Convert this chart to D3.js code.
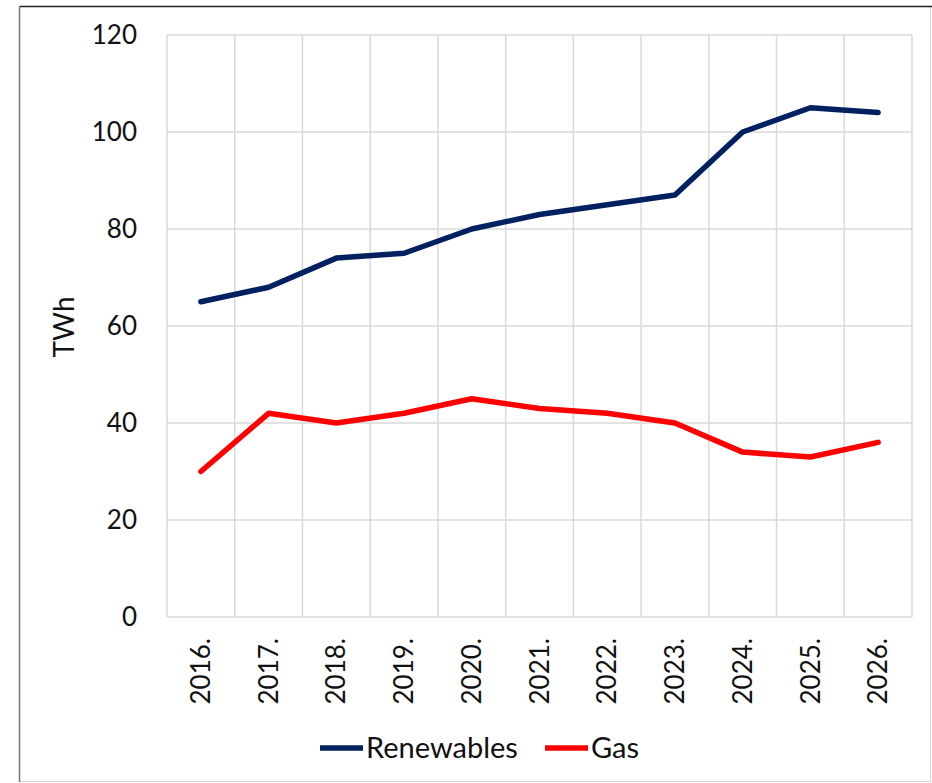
<!DOCTYPE html>
<html><head><meta charset="utf-8">
<script src="https://cdn.jsdelivr.net/npm/d3@7"></script>
<style>
html,body{margin:0;padding:0;background:#fff;}
svg{display:block;font-family:Lato,"Open Sans",sans-serif;}
</style></head>
<body><svg id="c" width="932" height="783"></svg>
<script>
const years = ["2016.","2017.","2018.","2019.","2020.","2021.","2022.","2023.","2024.","2025.","2026."];
const renewables = [65, 68, 74, 75, 80, 83, 85, 87, 100, 105, 104];
const gas = [30, 42, 40, 42, 45, 43, 42, 40, 34, 33, 36];
const yTicks = [0, 20, 40, 60, 80, 100, 120];
const seriesNames = ["Renewables", "Gas"];
const seriesColors = ["#002060", "#ff0000"];

const svg = d3.select("#c");
// frame
svg.append("rect").attr("x",19.5).attr("y",6.5).attr("width",911).attr("height",775)
  .attr("fill","none").attr("stroke","#d8d8d8").attr("stroke-width",1);
svg.append("line").attr("x1",19.5).attr("x2",932).attr("y1",6.5).attr("y2",6.5).attr("stroke","#222").attr("stroke-width",1.5);
svg.append("line").attr("x1",19.5).attr("x2",19.5).attr("y1",6.5).attr("y2",782).attr("stroke","#777").attr("stroke-width",1.5);

const L = 167, R = 912, T = 35, B = 617;
const x = d3.scaleBand().domain(years).range([L, R]);
const y = d3.scaleLinear().domain([0, 120]).range([B, T]);

const grid = svg.append("g");
grid.selectAll("line.h").data(yTicks).enter().append("line")
  .attr("x1", L).attr("x2", R).attr("y1", d => y(d)).attr("y2", d => y(d))
  .attr("stroke", "#d9d9d9").attr("stroke-width", 1.5);
const bounds = years.map(d => x(d)).concat([x(years[years.length-1]) + x.bandwidth()]);
grid.selectAll("line.v").data(bounds).enter().append("line")
  .attr("x1", d => d).attr("x2", d => d).attr("y1", T).attr("y2", B)
  .attr("stroke", "#d9d9d9").attr("stroke-width", 1.5);

// y axis
const yAxis = svg.append("g").attr("transform", `translate(${L},0)`)
  .call(d3.axisLeft(y).tickValues(yTicks).tickSize(0).tickPadding(30));
yAxis.select(".domain").remove();
yAxis.selectAll("text").attr("font-size", 26).attr("fill", "#111").attr("font-family","Lato,'Open Sans',sans-serif");

// x axis
const xAxis = svg.append("g").attr("transform", `translate(0,${B})`)
  .call(d3.axisBottom(x).tickSize(0));
xAxis.select(".domain").remove();
xAxis.selectAll("text")
  .attr("font-size", 26).attr("fill", "#111").attr("font-family","Lato,'Open Sans',sans-serif")
  .attr("transform", "rotate(-90)")
  .attr("text-anchor", "end").attr("dy", "0.35em")
  .attr("x", -21).attr("y", 0);

// y label
svg.append("text").attr("transform", "translate(64,327) rotate(-90)")
  .attr("text-anchor", "middle").attr("dy","0.35em").attr("font-size", 28).attr("fill", "#111").text("TWh");

// lines
const line = d3.line().x((d, i) => x(years[i]) + x.bandwidth()/2).y(d => y(d));
[renewables, gas].forEach((s, k) => {
  svg.append("path").datum(s).attr("d", line)
    .attr("fill", "none").attr("stroke", seriesColors[k]).attr("stroke-width", 5.5)
    .attr("stroke-linejoin", "round").attr("stroke-linecap", "round");
});

// legend
const legX = [320, 545];
seriesNames.forEach((n, k) => {
  const g = svg.append("g").attr("transform", `translate(${legX[k]},748)`);
  g.append("line").attr("x1", 0).attr("x2", 43).attr("y1", 0).attr("y2", 0)
    .attr("stroke", seriesColors[k]).attr("stroke-width", 5.5);
  g.append("text").attr("x", 46).attr("dy", "0.35em").attr("font-size", 29).attr("fill", "#111").text(n);
});
</script></body></html>
